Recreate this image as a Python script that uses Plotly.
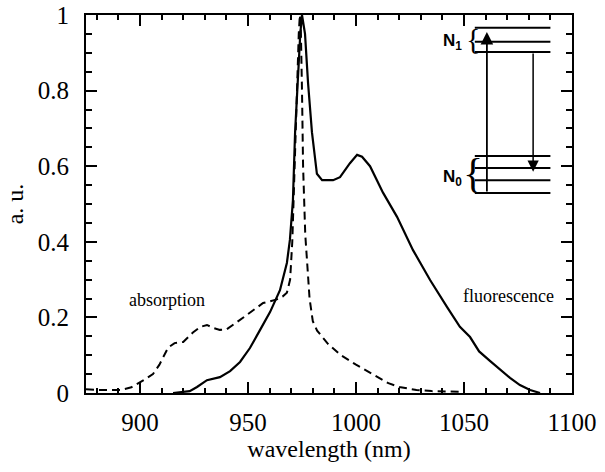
import plotly.graph_objects as go

# ---------------- data ----------------
abs_wl = [875, 881, 891, 896, 902, 906, 909, 913, 916, 920, 924.5, 928, 931, 934, 937, 940,
          945, 951, 957, 963, 966, 968, 969.5, 970.5, 971.5, 972.5, 973.5, 974, 974.5, 975,
          975.5, 976.5, 978.5, 980, 982, 987, 993, 1000, 1008, 1015, 1020, 1028, 1035, 1050]
abs_val = [0.01, 0.008, 0.008, 0.015, 0.035, 0.05, 0.075, 0.12, 0.132, 0.135, 0.16, 0.175, 0.18, 0.172, 0.167, 0.168,
           0.188, 0.213, 0.238, 0.247, 0.255, 0.265, 0.3, 0.4, 0.6, 0.8, 0.95, 1.0, 0.95, 0.8,
           0.6, 0.42, 0.25, 0.19, 0.165, 0.13, 0.1, 0.075, 0.048, 0.026, 0.016, 0.008, 0.005, 0.003]

fl_wl = [915.3, 923, 926.4, 931, 937, 941.7, 946.3, 950.9, 955.6, 960.2, 964.8, 968, 969.4, 970.8,
         971.8, 973.2, 974.2, 975, 976.4, 977.8, 979.6, 981.9, 984.3, 989.4, 992.6, 997.2, 1000.5,
         1002.8, 1006.5, 1012.5, 1019, 1026.4, 1034.3, 1042.1, 1048.1, 1052.8, 1057, 1062, 1066.7,
         1071.3, 1075.9, 1080.6, 1085.2]
fl_val = [0.0, 0.005, 0.016, 0.034, 0.042, 0.058, 0.082, 0.119, 0.167, 0.214, 0.272, 0.344, 0.405, 0.51,
          0.69, 0.86, 0.95, 1.0, 0.95, 0.82, 0.69, 0.58, 0.563, 0.563, 0.571, 0.608, 0.63,
          0.625, 0.6, 0.53, 0.466, 0.378, 0.299, 0.228, 0.175, 0.148, 0.11, 0.085, 0.061,
          0.04, 0.021, 0.008, 0.0]

x_ticks = [900, 950, 1000, 1050, 1100]
y_ticks = [0, 0.2, 0.4, 0.6, 0.8, 1]

# energy-level inset (data units)
level_x = [1055, 1090]
n1_levels = [0.966, 0.929, 0.902]
n0_levels = [0.627, 0.595, 0.563, 0.529]
pump_x, pump_from, pump_to = 1060.6, 0.529, 0.955
emit_x, emit_from, emit_to = 1082, 0.902, 0.585

label_abs = ("absorption", 912.5, 0.246)
label_fl = ("fluorescence", 1070.4, 0.257)

SERIF = "Liberation Serif"
SANS = "Liberation Sans"

fig = go.Figure()
fig.add_trace(go.Scatter(x=abs_wl, y=abs_val, mode="lines",
                         line=dict(color="black", width=2, dash="8px,5px"), showlegend=False))
fig.add_trace(go.Scatter(x=fl_wl, y=fl_val, mode="lines",
                         line=dict(color="black", width=2.2), showlegend=False))

for lv in n1_levels + n0_levels:
    fig.add_trace(go.Scatter(x=level_x, y=[lv, lv], mode="lines",
                             line=dict(color="black", width=2), showlegend=False, hoverinfo="skip"))

anns = []
# arrows
anns.append(dict(x=pump_x, y=pump_to, ax=pump_x, ay=pump_from, xref="x", yref="y", axref="x", ayref="y",
                 showarrow=True, arrowhead=2, arrowsize=1.4, arrowwidth=1.8, arrowcolor="black", text=""))
anns.append(dict(x=emit_x, y=emit_to, ax=emit_x, ay=emit_from, xref="x", yref="y", axref="x", ayref="y",
                 showarrow=True, arrowhead=2, arrowsize=1.5, arrowwidth=1.5, arrowcolor="black", text=""))
# level labels
anns.append(dict(x=1044.5, y=0.929, xref="x", yref="y", showarrow=False,
                 text="<b>N<sub>1</sub></b>", font=dict(family=SANS, size=17, color="black")))
anns.append(dict(x=1054.0, y=0.938, xref="x", yref="y", showarrow=False,
                 text="{", font=dict(family=SERIF, size=30, color="black")))
anns.append(dict(x=1044.5, y=0.569, xref="x", yref="y", showarrow=False,
                 text="<b>N<sub>0</sub></b>", font=dict(family=SANS, size=17, color="black")))
anns.append(dict(x=1054.0, y=0.582, xref="x", yref="y", showarrow=False,
                 text="{", font=dict(family=SERIF, size=42, color="black")))
# curve labels
for t, lx, ly in (label_abs, label_fl):
    anns.append(dict(x=lx, y=ly, xref="x", yref="y", showarrow=False, text=t,
                     font=dict(family=SERIF, size=18, color="black")))

axis_common = dict(showgrid=False, zeroline=False, showline=True, linecolor="black", linewidth=2,
                   mirror="ticks", ticks="inside", tickcolor="black", tickwidth=1.5, ticklen=11,
                   automargin=False, ticklabeloverflow="allow",
                   tickfont=dict(family=SERIF, size=25, color="black"))

fig.update_layout(
    width=605, height=472,
    margin=dict(l=86, r=33, t=15, b=79),
    paper_bgcolor="white", plot_bgcolor="white",
    annotations=anns,
    xaxis=dict(range=[875, 1100], tickvals=x_ticks, ticktext=[str(v) for v in x_ticks],
               minor=dict(dtick=10, tick0=900, ticks="inside", ticklen=5, tickwidth=1.5, tickcolor="black"),
               title=dict(text="wavelength (nm)", font=dict(family=SERIF, size=24, color="black"), standoff=5),
               ticklabelstandoff=6, **axis_common),
    yaxis=dict(range=[0, 1], tickvals=y_ticks, ticktext=["0", "0.2", "0.4", "0.6", "0.8", "1"],
               minor=dict(dtick=0.05, tick0=0, ticks="inside", ticklen=6, tickwidth=1.5, tickcolor="black"),
               title=dict(text="a. u.", font=dict(family=SERIF, size=24, color="black"), standoff=7),
               ticklabelstandoff=10, **axis_common),
)

# remove the browser's default 8px body margin so the figure sits at the page origin
fig.write_html("out.html", config={"displayModeBar": False},
               post_script="document.body.style.margin='0px';")
